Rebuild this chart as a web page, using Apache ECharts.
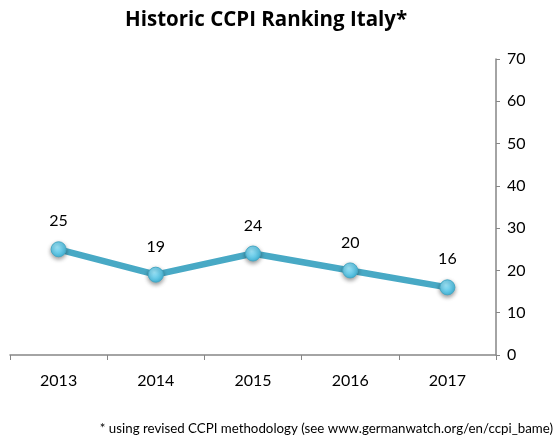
<!DOCTYPE html>
<html><head><meta charset="utf-8">
<script src="https://cdn.jsdelivr.net/npm/echarts@6/dist/echarts.min.js"></script>
<style>html,body{margin:0;padding:0;background:#fff}#c{width:560px;height:439px}</style>
</head><body><div id="c"></div>
<script>
var categories = ['2013','2014','2015','2016','2017'];
var ranking = [25, 19, 24, 20, 16];
var yTicks = {min: 0, max: 70, interval: 10};
var titleText = 'Historic CCPI Ranking Italy*';
var footnote = '* using revised CCPI methodology (see www.germanwatch.org/en/ccpi_bame)';

var font = 'Lato, "Open Sans", sans-serif';
var chart = echarts.init(document.getElementById('c'));
chart.setOption({
  backgroundColor: '#fff',
  animation: false,
  graphic: [{
    type: 'text', left: 125, top: 10,
    style: {text: titleText, font: 'bold 20.5px "Open Sans", sans-serif', fill: '#000'}
  }, {
    type: 'text', right: 7, top: 422,
    style: {text: footnote, font: '13.3px ' + font, fill: '#000'}
  }],
  grid: {left: 10, right: 64, top: 59, bottom: 84},
  xAxis: {
    type: 'category', data: categories, boundaryGap: true,
    axisLine: {lineStyle: {color: '#868686', width: 1.5}},
    axisTick: {show: true, length: 5, lineStyle: {color: '#868686'}},
    axisLabel: {fontFamily: font, fontSize: 16, color: '#000', margin: 18}
  },
  yAxis: {
    type: 'value', position: 'right', min: yTicks.min, max: yTicks.max, interval: yTicks.interval,
    axisLine: {show: true, lineStyle: {color: '#868686', width: 1.5}},
    axisTick: {show: true, length: 4, lineStyle: {color: '#868686'}},
    splitLine: {show: false},
    axisLabel: {fontFamily: font, fontSize: 16, color: '#000', margin: 11}
  },
  series: [{
    type: 'line', data: ranking,
    lineStyle: {color: '#48A9C5', width: 6.5},
    symbol: 'circle', symbolSize: 15,
    itemStyle: {
      color: new echarts.graphic.RadialGradient(0.4, 0.35, 0.7, [
        {offset: 0, color: '#9BE3F7'}, {offset: 1, color: '#3FB6DB'}
      ]),
      borderColor: '#48A9C5', borderWidth: 1,
      shadowColor: 'rgba(0,0,0,0.4)', shadowBlur: 4, shadowOffsetY: 2
    },
    label: {show: true, position: 'top', distance: 12, fontFamily: font, fontSize: 16, color: '#000'}
  }]
});
</script></body></html>
